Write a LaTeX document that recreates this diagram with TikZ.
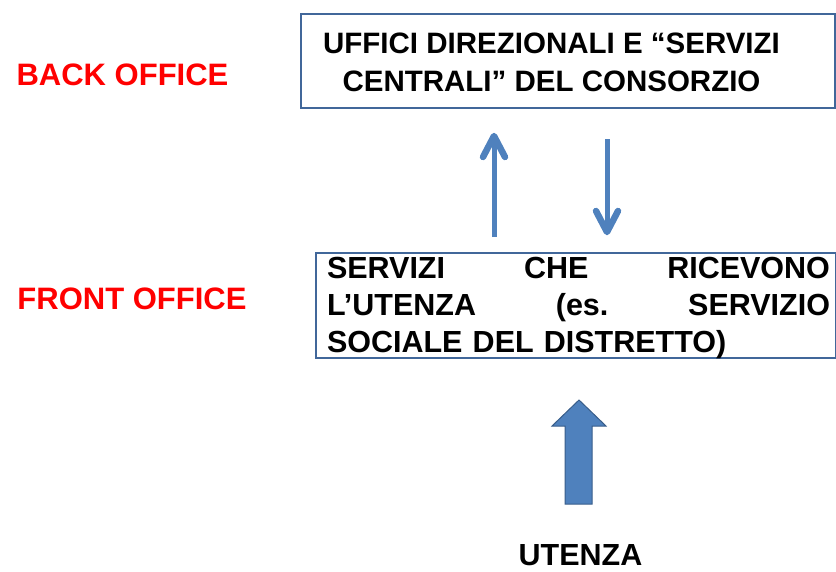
\documentclass[tikz,border=0pt]{standalone}
\usepackage{fontspec}
\setmainfont{Liberation Sans}
\definecolor{boxline}{HTML}{41679A}
\definecolor{arrowblue}{HTML}{4F81BD}
\definecolor{arrowedge}{HTML}{385D8A}
\definecolor{labelred}{HTML}{FF0000}
\tikzset{
  x=1pt, y=-1pt,
  boxstyle/.style={draw=boxline, line width=2pt, inner sep=0pt},
  bigtext/.style={font=\fontsize{29.5}{37.5}\selectfont\bfseries, inner sep=0pt},
  fronttext/.style={font=\fontsize{30.5}{37}\selectfont\bfseries, inner sep=0pt},
  sidelabel/.style={font=\fontsize{31}{37}\selectfont\bfseries, inner sep=0pt, text=labelred},
  thinarrow/.style={draw=arrowblue, line width=5pt},
  chevron/.style={draw=arrowblue, line width=6.5pt, line cap=round, line join=round},
}
\begin{document}
\begin{tikzpicture}
\useasboundingbox (0,0) rectangle (836,571);
% boxes
\node[boxstyle, minimum width=534pt, minimum height=94pt] (back) at (568,61) {};
\node[bigtext, align=center] (backtxt) at (551.5,62.5)
  {UFFICI DIREZIONALI E “SERVIZI\\CENTRALI” DEL CONSORZIO};
\node[boxstyle, minimum width=520pt, minimum height=105pt] (front) at (575.5,305.5) {};
\node[fronttext, text width=503pt, align=left] (fronttxt) at (578.5,308)
  {SERVIZI\hfill CHE\hfill RICEVONO\\L’UTENZA\hfill (es.\hfill SERVIZIO\\SOCIALE DEL DISTRETTO)};
% side labels
\node[sidelabel] (backlbl) at (122.5,74.5) {BACK OFFICE};
\node[sidelabel] (frontlbl) at (132,298.5) {FRONT OFFICE};
\node[fronttext] (utenza) at (580.5,555) {UTENZA};
% thin arrows
\coordinate (upstart) at (494,237);
\coordinate (upend) at (494,136);
\coordinate (dnstart) at (607,139);
\coordinate (dnend) at (607,232);
\draw[thinarrow] (upstart) -- (upend);
\draw[chevron] (upend) ++(-11,21) -- (upend) -- ++(11,21);
\draw[thinarrow] (dnstart) -- (dnend);
\draw[chevron] (dnend) ++(-11,-21) -- (dnend) -- ++(11,-21);
% block arrow from UTENZA to front office
\filldraw[fill=arrowblue, draw=arrowedge, line width=1pt, line join=miter]
  (565,504) -- (565,426) -- (552,426) -- (579,400) -- (606,426) -- (592,426) -- (592,504) -- cycle;
\end{tikzpicture}
\end{document}
